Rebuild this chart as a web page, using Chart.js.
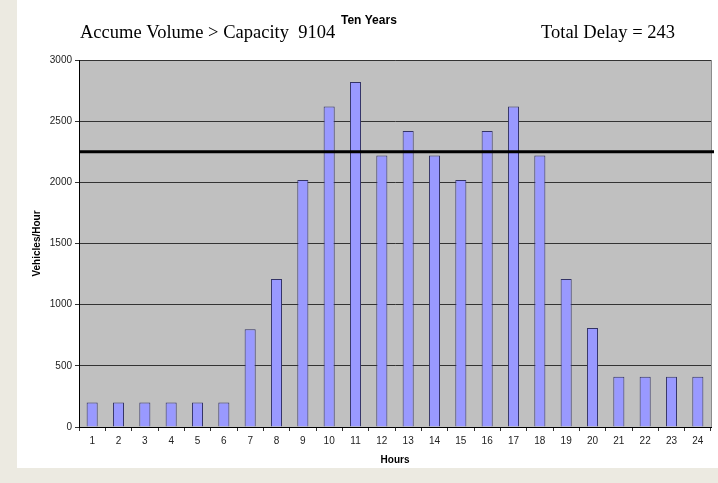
<!DOCTYPE html>
<html>
<head>
<meta charset="utf-8">
<script src="https://cdn.jsdelivr.net/npm/chart.js@4/dist/chart.umd.min.js"></script>
<style>
  html, body { margin: 0; padding: 0; }
  body { width: 718px; height: 483px; background: #ECEAE1; position: relative; overflow: hidden; }
  #card { position: absolute; left: 17px; top: 0; width: 701px; height: 468px; background: #FFFFFF; }
  #chart { position: absolute; left: 0; top: 0; }
</style>
</head>
<body>
<div id="card"></div>
<canvas id="chart" width="718" height="483"></canvas>
<script>
// Hourly traffic volumes over a 24-hour day, ten-year horizon
const HOURS = ['1','2','3','4','5','6','7','8','9','10','11','12',
               '13','14','15','16','17','18','19','20','21','22','23','24'];
const VOLUMES = [200, 200, 200, 200, 200, 200, 800, 1210, 2020, 2620, 2820, 2220,
                 2420, 2220, 2020, 2420, 2620, 2220, 1210, 810, 410, 410, 410, 410];
const CAPACITY = 2250;
const Y_TICKS = [0, 500, 1000, 1500, 2000, 2500, 3000];

const TITLE_LEFT = 'Accume Volume > Capacity  9104';
const TITLE_MID = 'Ten Years';
const TITLE_RIGHT = 'Total Delay = 243';
const Y_TITLE = 'Vehicles/Hour';
const X_TITLE = 'Hours';

const SANS = '"Liberation Sans", Arial, sans-serif';
const SERIF = '"Liberation Serif", "Times New Roman", serif';

// Grey plot background with a thin frame
const plotBackground = {
  id: 'plotBackground',
  beforeDraw(chart) {
    const { ctx, chartArea: a } = chart;
    ctx.save();
    ctx.fillStyle = '#C0C0C0';
    ctx.fillRect(a.left, a.top, a.right - a.left, a.bottom - a.top);
    ctx.strokeStyle = '#8C8C8C';
    ctx.lineWidth = 1;
    ctx.strokeRect(a.left + 0.5, a.top + 0.5, a.right - a.left, a.bottom - a.top);
    ctx.restore();
  }
};

// Heavy horizontal line marking the capacity level
const capacityLine = {
  id: 'capacityLine',
  afterDatasetsDraw(chart) {
    const { ctx, chartArea: a, scales } = chart;
    const y = scales.y.getPixelForValue(CAPACITY);
    ctx.save();
    ctx.strokeStyle = '#000000';
    ctx.lineWidth = 3;
    ctx.beginPath();
    ctx.moveTo(a.left, y);
    ctx.lineTo(a.right + 3, y);
    ctx.stroke();
    ctx.restore();
  }
};

// Header texts and axis titles
const captions = {
  id: 'captions',
  afterDraw(chart) {
    const { ctx, chartArea: a } = chart;
    ctx.save();
    ctx.fillStyle = '#000000';
    ctx.textBaseline = 'middle';
    ctx.textAlign = 'left';

    ctx.font = '18.5px ' + SERIF;
    ctx.fillText(TITLE_LEFT, 80, 33);
    ctx.fillText(TITLE_RIGHT, 541, 33);

    ctx.font = 'bold 12px ' + SANS;
    ctx.fillText(TITLE_MID, 341, 21);

    ctx.font = 'bold 10px ' + SANS;
    ctx.textAlign = 'center';
    ctx.fillText(X_TITLE, (a.left + a.right) / 2, 460);

    ctx.translate(37, (a.top + a.bottom) / 2);
    ctx.rotate(-Math.PI / 2);
    ctx.fillText(Y_TITLE, 0, 0);
    ctx.restore();
  }
};

new Chart(document.getElementById('chart'), {
  type: 'bar',
  data: {
    labels: HOURS,
    datasets: [{
      data: VOLUMES,
      backgroundColor: '#9999FF',
      borderColor: '#333366',
      borderWidth: 1,
      barPercentage: 0.42,
      categoryPercentage: 1.0
    }]
  },
  options: {
    responsive: false,
    animation: false,
    devicePixelRatio: 1,
    layout: { padding: { left: 0, right: 7, top: 60, bottom: 0 } },
    plugins: { legend: { display: false }, tooltip: { enabled: false } },
    scales: {
      y: {
        min: 0,
        max: 3000,
        afterBuildTicks(scale) { scale.ticks = Y_TICKS.map(v => ({ value: v })); },
        afterFit(scale) { scale.width = 79; },
        ticks: {
          font: { family: SANS, size: 10 },
          color: '#222222',
          padding: 3,
          callback: v => String(v)
        },
        grid: { color: '#333333', lineWidth: 1, tickLength: 4 },
        border: { color: '#000000', width: 1 }
      },
      x: {
        afterFit(scale) { scale.height = 56; },
        ticks: { font: { family: SANS, size: 10 }, color: '#222222', padding: 4, maxRotation: 0, autoSkip: false },
        grid: { drawOnChartArea: false, drawTicks: true, tickLength: 4, color: '#333333', offset: true },
        border: { color: '#000000', width: 1 }
      }
    }
  },
  plugins: [plotBackground, capacityLine, captions]
});
</script>
</body>
</html>
